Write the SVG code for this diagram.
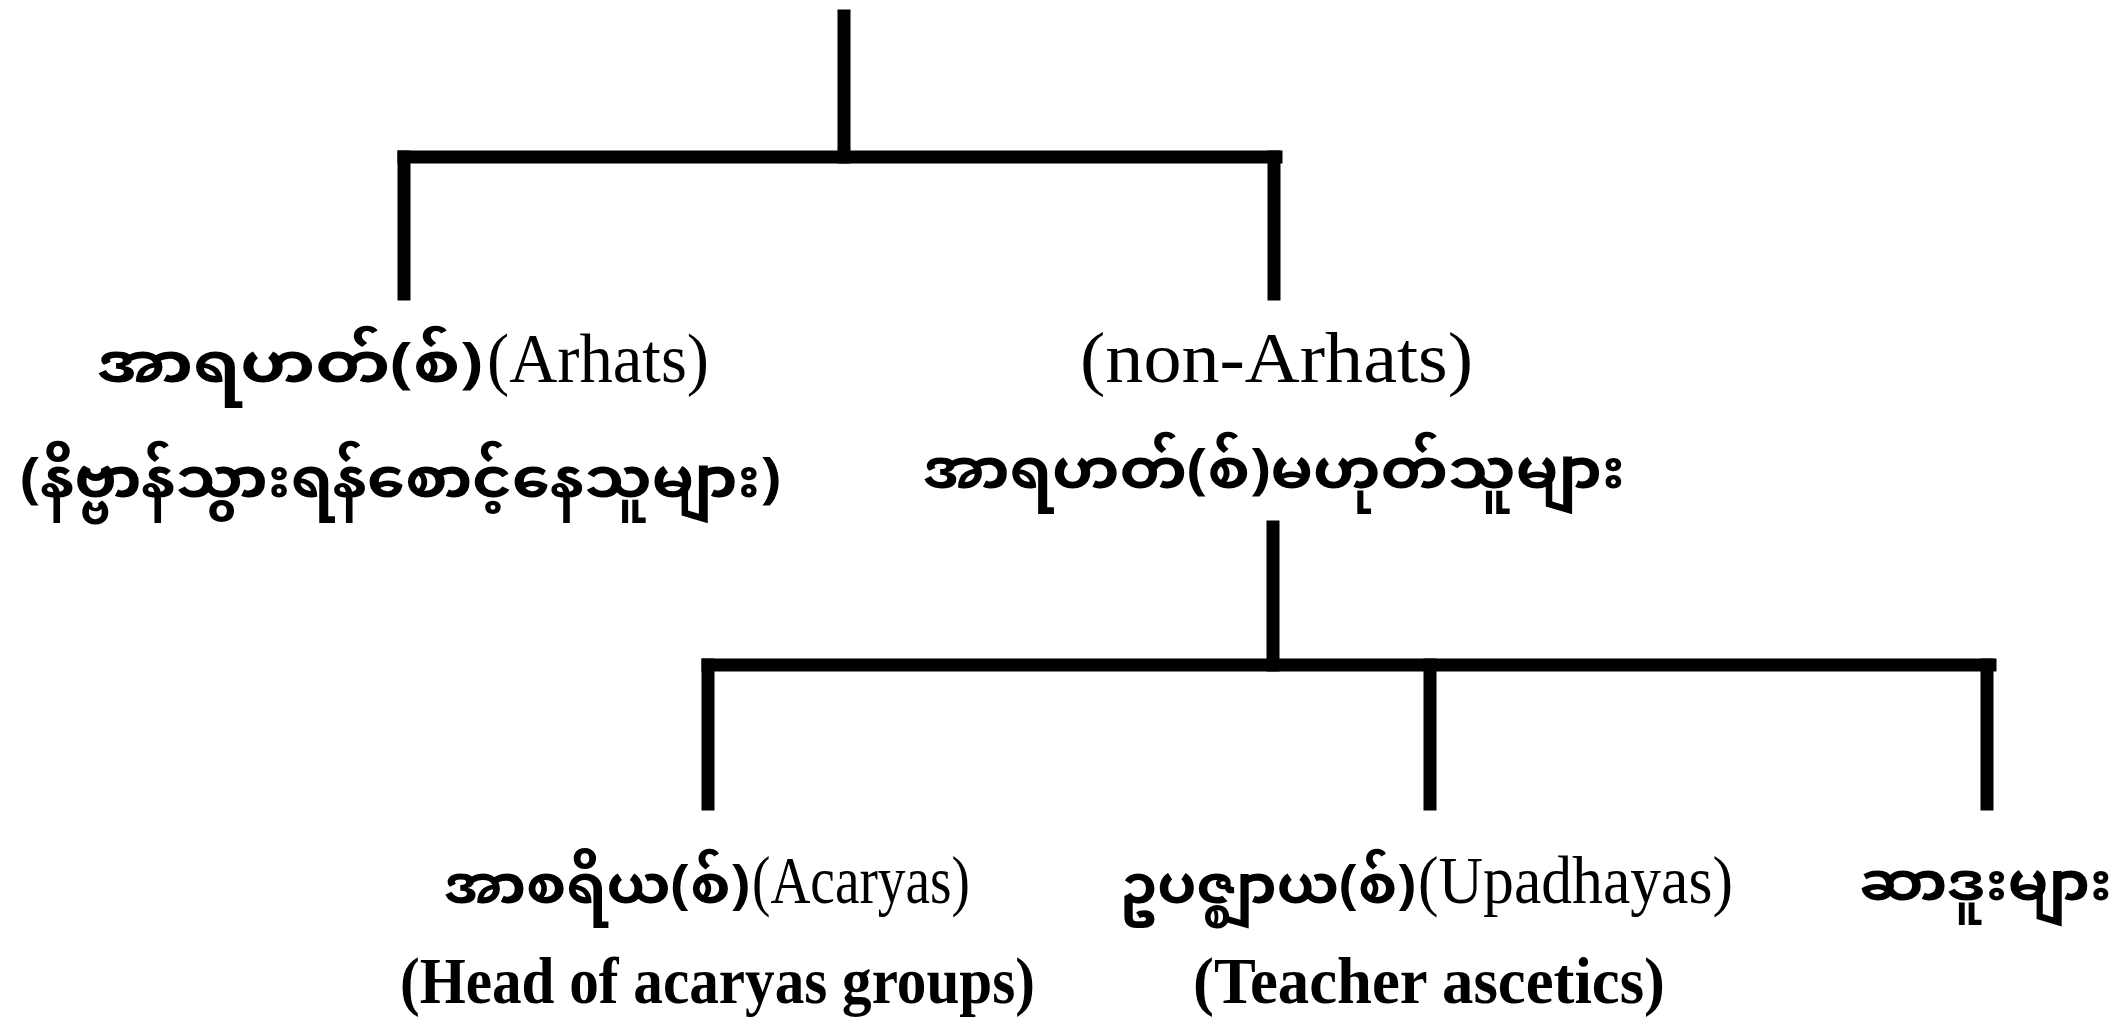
<svg xmlns="http://www.w3.org/2000/svg" width="2125" height="1025" viewBox="0 0 2125 1025">
<style>
.ln{stroke:#000;stroke-width:13;fill:none;stroke-linecap:square}
.my{font-family:"Noto Sans Myanmar","Noto Serif Myanmar","Padauk","Myanmar Text","Myanmar3","Liberation Serif",serif;font-weight:bold;fill:#000}
.en{font-family:"Liberation Serif","Times New Roman",serif;fill:#000}
.b{font-weight:bold}
</style>
<rect width="2125" height="1025" fill="#fff"/>
<g id="connectors">
<line class="ln" x1="844" y1="16" x2="844" y2="157"/>
<line class="ln" x1="404" y1="157" x2="1276" y2="157"/>
<line class="ln" x1="404" y1="157" x2="404" y2="294"/>
<line class="ln" x1="1274" y1="157" x2="1274" y2="294"/>
<line class="ln" x1="1273" y1="527" x2="1273" y2="665"/>
<line class="ln" x1="708" y1="665" x2="1990" y2="665"/>
<line class="ln" x1="708" y1="665" x2="708" y2="804"/>
<line class="ln" x1="1430" y1="665" x2="1430" y2="804"/>
<line class="ln" x1="1987" y1="665" x2="1987" y2="804"/>
</g>
<g id="arhats">
<text y="382"><tspan class="my" x="97" font-size="56" textLength="386" lengthAdjust="spacingAndGlyphs">အာရဟတ်(စ်)</tspan><tspan class="en" x="487" font-size="70" textLength="222" lengthAdjust="spacingAndGlyphs">(Arhats)</tspan></text>
<text class="my" x="20" y="497" font-size="56" textLength="761" lengthAdjust="spacingAndGlyphs">(နိဗ္ဗာန်သွားရန်စောင့်နေသူများ)</text>
</g>
<g id="non-arhats">
<text class="en" x="1080" y="382" font-size="72" textLength="393" lengthAdjust="spacingAndGlyphs">(non-Arhats)</text>
<text class="my" x="923" y="488" font-size="56" textLength="702" lengthAdjust="spacingAndGlyphs">အာရဟတ်(စ်)မဟုတ်သူများ</text>
</g>
<g id="acaryas">
<text y="903"><tspan class="my" x="444" font-size="54" textLength="306" lengthAdjust="spacingAndGlyphs">အာစရိယ(စ်)</tspan><tspan class="en" x="752" font-size="68" textLength="218" lengthAdjust="spacingAndGlyphs">(Acaryas)</tspan></text>
<text class="en b" x="400" y="1003" font-size="66" textLength="635" lengthAdjust="spacingAndGlyphs">(Head of acaryas groups)</text>
</g>
<g id="upadhayas">
<text y="903"><tspan class="my" x="1120" font-size="54" textLength="296" lengthAdjust="spacingAndGlyphs">ဥပဇ္ဈာယ(စ်)</tspan><tspan class="en" x="1418" font-size="68" textLength="315" lengthAdjust="spacingAndGlyphs">(Upadhayas)</tspan></text>
<text class="en b" x="1193" y="1003" font-size="66" textLength="472" lengthAdjust="spacingAndGlyphs">(Teacher ascetics)</text>
</g>
<g id="sadhus">
<text class="my" x="1859" y="900" font-size="54" textLength="253" lengthAdjust="spacingAndGlyphs">ဆာဒူးများ</text>
</g>
</svg>
